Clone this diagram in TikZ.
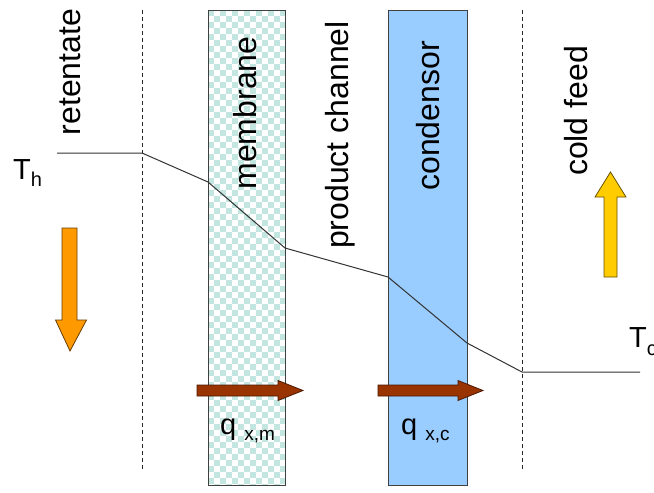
\documentclass[tikz,border=0pt]{standalone}
\usepackage{fontspec}
\setmainfont{Liberation Sans}
\definecolor{checkc}{HTML}{C4E6E0}
\definecolor{condc}{HTML}{99CCFF}
\definecolor{orangec}{HTML}{FF9900}
\definecolor{yellowc}{HTML}{FFCC00}
\definecolor{brownc}{HTML}{993300}
\begin{document}
\begin{tikzpicture}[x=1pt,y=-1pt,
  lbl/.style={font=\fontsize{32}{32}\selectfont, rotate=90, inner sep=0pt},
  sym/.style={font=\fontsize{29}{29}\selectfont, inner sep=0pt},
  band/.style={draw=black!75, line width=0.9pt, inner sep=0pt, anchor=north west},
  divider/.style={black!85, line width=0.9pt, dash pattern=on 4pt off 3pt},
  templine/.style={black!80, line width=1pt},
  fatarrow/.style={line width=0.8pt, line join=miter}]
\useasboundingbox (0,0) rectangle (654,493);
\fill[white] (0,0) rectangle (654,493);
% membrane checkerboard
\begin{scope}
\clip (208,10) rectangle (285,485);
\foreach \i in {0,...,12}{\foreach \j in {0,...,79}{%
  \pgfmathtruncatemacro\p{mod(\i+\j,2)}%
  \ifnum\p=0 \fill[checkc] (208+6*\i,10+6*\j) rectangle ++(6,6);\fi}}
\end{scope}
\node[band, minimum width=77pt, minimum height=475pt] (mem) at (208,10) {};
\node[band, fill=condc, minimum width=79pt, minimum height=475pt] (cond) at (388,10) {};
% dashed dividers
\coordinate (d1t) at (142,10); \coordinate (d1b) at (142,470);
\coordinate (d2t) at (522,10); \coordinate (d2b) at (522,470);
\draw[divider] (d1t) -- (d1b);
\draw[divider] (d2t) -- (d2b);
% labels
\node[lbl] (ret) at (70,72) {retentate};
\node[lbl] (memt) at (245,113) {membrane};
\node[lbl] (prod) at (340,135) {product channel};
\node[lbl] (condt) at (428,116) {condensor};
\node[lbl] (cold) at (576,111) {cold feed};
% temperature profile
\coordinate (t0) at (57,153);
\coordinate (t1) at (142,153);
\coordinate (t2) at (208,182);
\coordinate (t3) at (285,248);
\coordinate (t4) at (388,277);
\coordinate (t5) at (467,343);
\coordinate (t6) at (522,372);
\coordinate (t7) at (640,372);
\draw[templine] (t0) -- (t1) -- (t2) -- (t3) -- (t4) -- (t5) -- (t6) -- (t7);
\node[sym, anchor=base west] (th) at (13,179) {T\raisebox{-7pt}{\fontsize{20}{20}\selectfont h}};
\node[sym, anchor=base west] (tc) at (629,347) {T\raisebox{-8pt}{\fontsize{20}{20}\selectfont c}};
% orange down arrow
\filldraw[fatarrow, fill=orangec, draw=black!60!orangec]
  (62,228) -- (77,228) -- (77,320) -- (86.5,320) -- (70,351) -- (55.5,320) -- (62,320) -- cycle;
% yellow up arrow
\filldraw[fatarrow, fill=yellowc, draw=black!60!yellowc]
  (604,277) -- (617,277) -- (617,197) -- (626,197) -- (610.5,172) -- (595,197) -- (604,197) -- cycle;
% brown flux arrows
\filldraw[fatarrow, fill=brownc, draw=black!50!brownc]
  (197,385) -- (278,385) -- (278,380.5) -- (303,390.5) -- (278,400.5) -- (278,396) -- (197,396) -- cycle;
\filldraw[fatarrow, fill=brownc, draw=black!50!brownc]
  (378,385) -- (458,385) -- (458,380.5) -- (483,390.5) -- (458,400.5) -- (458,396) -- (378,396) -- cycle;
% flux labels
\node[sym, anchor=base west] (qm) at (220,434) {q\hspace{8pt}\raisebox{-6pt}{\fontsize{19}{19}\selectfont x,m}};
\node[sym, anchor=base west] (qc) at (401,434) {q\hspace{8pt}\raisebox{-6pt}{\fontsize{19}{19}\selectfont x,c}};
\end{tikzpicture}
\end{document}
